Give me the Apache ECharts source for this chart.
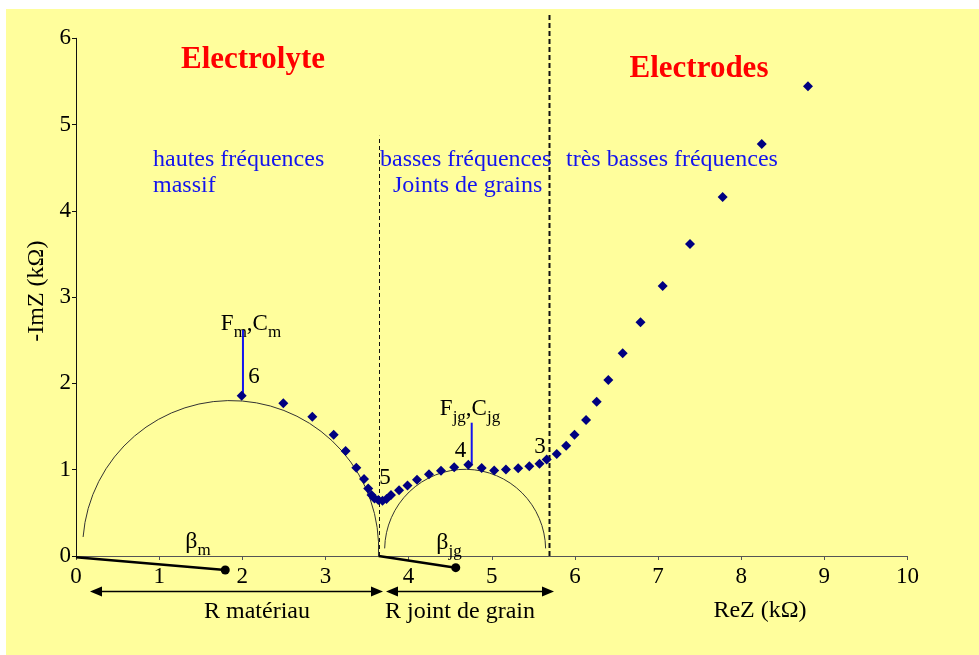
<!DOCTYPE html>
<html>
<head>
<meta charset="utf-8">
<script src="https://cdn.jsdelivr.net/npm/echarts@6/dist/echarts.min.js"></script>
<style>
html,body{margin:0;padding:0;background:#fff;}
#c{width:979px;height:655px;}
</style>
</head>
<body>
<div id="c"></div>
<script>
// ---- data ----
const reZ = [1.993,2.493,2.842,3.099,3.243,3.371,3.464,3.514,3.554,3.590,3.636,3.686,3.734,3.788,3.885,3.987,4.101,4.245,4.390,4.548,4.718,4.879,5.029,5.171,5.318,5.452,5.574,5.661,5.782,5.895,5.995,6.134,6.262,6.402,6.575,6.789,7.056,7.384,7.777,8.247,8.803];
const imZ = [1.858,1.770,1.615,1.406,1.217,1.023,0.892,0.782,0.707,0.666,0.649,0.641,0.661,0.707,0.763,0.817,0.884,0.948,0.989,1.028,1.058,1.020,0.991,1.003,1.016,1.041,1.070,1.118,1.182,1.278,1.406,1.576,1.787,2.040,2.349,2.709,3.129,3.616,4.161,4.775,5.444];

// fitted arcs (centre, radius in ReZ units, start/end angle in degrees)
const arcCx = [1.86, 4.68];
const arcCy = [0.086, 0.072];
const arcR = [1.78, 0.968];
const arcStart = [184.5, 181];
const arcEnd = [362.9, 359];

// beta (depression angle) segments
const betaX0 = [0, 3.64];
const betaY0 = [-0.015, 0];
const betaX1 = [1.795, 4.567];
const betaY1 = [-0.162, -0.135];

// domain boundaries
const boundX = [3.64, 5.69];
const boundTop = [4.87, 6.28];

// resistance arrows
const arrowFrom = [0.168, 3.728];
const arrowTo = [3.692, 5.749];
const arrowY = [-0.406, -0.406];

// pointer lines for F,C labels
const ptrX = [2.008, 4.759];
const ptrY0 = [1.88, 1.06];
const ptrY1 = [2.62, 1.545];

const xTicks = [0,1,2,3,4,5,6,7,8,9,10];
const yTicks = [0,1,2,3,4,5,6];

// ---- chart ----
const FONT = 'Liberation Serif';
const BLUE = '#1414ee';
const chart = echarts.init(document.getElementById('c'), null, {renderer:'canvas'});

function txt(text, x, y, opts) {
  return {
    type: 'text', x: x, y: y, z: 50,
    style: Object.assign({text: text, fontFamily: FONT, fontSize: 24, fill: '#000', align: 'left', verticalAlign: 'middle'}, opts || {})
  };
}
const subRich = (color, big, small) => ({
  a: {fontFamily: FONT, fontSize: big, color: color, lineHeight: 34, verticalAlign: 'middle'},
  b: {fontFamily: FONT, fontSize: small, color: color, lineHeight: 34, verticalAlign: 'bottom'}
});

const option = {
  backgroundColor: '#ffffff',
  animation: false,
  grid: {left: 76, right: 71.5, top: 38.3, bottom: 99, containLabel: false},
  xAxis: {
    type: 'value', min: xTicks[0], max: xTicks[xTicks.length-1], interval: 1,
    axisLine: {onZero: false, lineStyle: {color: '#555', width: 1}},
    axisTick: {show: true, length: 4, lineStyle: {color: '#555'}},
    axisLabel: {fontFamily: FONT, fontSize: 23, color: '#000', margin: 9},
    splitLine: {show: false}
  },
  yAxis: {
    type: 'value', min: yTicks[0], max: yTicks[yTicks.length-1], interval: 1,
    name: '-ImZ (kΩ)', nameLocation: 'middle', nameRotate: 90, nameGap: 23,
    nameTextStyle: {fontFamily: FONT, fontSize: 24, color: '#000', padding: [0, 0, 0, 12]},
    axisLine: {show: true, onZero: false, lineStyle: {color: '#111', width: 1}},
    axisTick: {show: true, length: 4, lineStyle: {color: '#111'}},
    axisLabel: {fontFamily: FONT, fontSize: 23, color: '#000', margin: 5},
    splitLine: {show: false}
  },
  graphic: [
    {type: 'rect', z: -100, silent: true, shape: {x: 6, y: 9, width: 973, height: 646}, style: {fill: '#FFFE9C'}},
    txt('Electrolyte', 253, 60, {fontSize: 31, fontWeight: 'bold', fill: '#ff0000', align: 'center'}),
    txt('Electrodes', 699, 69, {fontSize: 31, fontWeight: 'bold', fill: '#ff0000', align: 'center'}),
    txt('hautes fréquences', 153, 160, {fill: BLUE}),
    txt('massif', 153, 186, {fill: BLUE}),
    txt('basses fréquences', 380, 160, {fill: BLUE}),
    txt('Joints de grains', 393, 186, {fill: BLUE}),
    txt('très basses fréquences', 566, 160, {fill: BLUE}),
    txt('6', 254, 377, {align: 'center', fontSize: 23}),
    txt('5', 385, 478, {align: 'center', fontSize: 23}),
    txt('4', 460.5, 451, {align: 'center', fontSize: 23}),
    txt('3', 540, 447, {align: 'center', fontSize: 23}),
    txt('R matériau', 257, 612, {align: 'center'}),
    txt('R joint de grain', 460, 612, {align: 'center'}),
    txt('ReZ (kΩ)', 760, 611, {align: 'center'}),
    {type: 'text', x: 251, y: 324, z: 50, style: {text: '{a|F}{b|m}{a|,C}{b|m}', rich: subRich(BLUE, 23, 17), align: 'center', verticalAlign: 'middle'}},
    {type: 'text', x: 470, y: 409, z: 50, style: {text: '{a|F}{b|jg}{a|,C}{b|jg}', rich: subRich(BLUE, 23, 17), align: 'center', verticalAlign: 'middle'}},
    {type: 'text', x: 198, y: 542, z: 50, style: {text: '{a|β}{b|m}', rich: subRich('#000', 24, 17), align: 'center', verticalAlign: 'middle'}},
    {type: 'text', x: 449, y: 543, z: 50, style: {text: '{a|β}{b|jg}', rich: subRich('#000', 24, 17), align: 'center', verticalAlign: 'middle'}}
  ],
  series: [
    {
      type: 'custom', name: 'arcs', z: 3, silent: true,
      data: arcCx.map((_, i) => [arcCx[i], arcCy[i], arcR[i], arcStart[i], arcEnd[i]]),
      encode: {x: 0, y: 1},
      renderItem: function (params, api) {
        const c = api.coord([api.value(0), api.value(1)]);
        const r = api.size([api.value(2), 0])[0];
        return {
          type: 'arc',
          shape: {cx: c[0], cy: c[1], r: r, startAngle: api.value(3) * Math.PI / 180, endAngle: api.value(4) * Math.PI / 180, clockwise: true},
          style: {stroke: '#333', fill: null, lineWidth: 1}
        };
      }
    },
    {
      type: 'custom', name: 'boundaries', z: 3, silent: true,
      data: boundX.map((_, i) => [boundX[i], boundTop[i], i]),
      encode: {x: 0, y: 1},
      renderItem: function (params, api) {
        const p0 = api.coord([api.value(0), 0]);
        const p1 = api.coord([api.value(0), api.value(1)]);
        const heavy = api.value(2) === 1;
        return {
          type: 'line',
          shape: {x1: Math.round(p0[0]) + 0.5, y1: p0[1], x2: Math.round(p1[0]) + 0.5, y2: p1[1]},
          style: {stroke: '#111', lineWidth: heavy ? 2 : 1, lineDash: heavy ? [5, 3] : [4, 3]}
        };
      }
    },
    {
      type: 'custom', name: 'beta', z: 4, silent: true,
      data: betaX0.map((_, i) => [betaX0[i], betaY0[i], betaX1[i], betaY1[i]]),
      encode: {x: 0, y: 1},
      renderItem: function (params, api) {
        const p0 = api.coord([api.value(0), api.value(1)]);
        const p1 = api.coord([api.value(2), api.value(3)]);
        return {
          type: 'group', children: [
            {type: 'line', shape: {x1: p0[0], y1: p0[1], x2: p1[0], y2: p1[1]}, style: {stroke: '#000', lineWidth: 2.5}},
            {type: 'circle', shape: {cx: p1[0], cy: p1[1], r: 4.5}, style: {fill: '#000'}}
          ]
        };
      }
    },
    {
      type: 'custom', name: 'arrows', z: 4, silent: true,
      data: arrowFrom.map((_, i) => [arrowFrom[i], arrowY[i], arrowTo[i]]),
      encode: {x: 0, y: 1},
      renderItem: function (params, api) {
        const p0 = api.coord([api.value(0), api.value(1)]);
        const p1 = api.coord([api.value(2), api.value(1)]);
        const y = Math.round(p0[1]) + 0.5;
        const L = 12, H = 5;
        return {
          type: 'group', children: [
            {type: 'line', shape: {x1: p0[0] + 4, y1: y, x2: p1[0] - 4, y2: y}, style: {stroke: '#000', lineWidth: 1.3}},
            {type: 'polygon', shape: {points: [[p0[0], y], [p0[0] + L, y - H], [p0[0] + L, y + H]]}, style: {fill: '#000'}},
            {type: 'polygon', shape: {points: [[p1[0], y], [p1[0] - L, y - H], [p1[0] - L, y + H]]}, style: {fill: '#000'}}
          ]
        };
      }
    },
    {
      type: 'custom', name: 'pointers', z: 4, silent: true,
      data: ptrX.map((_, i) => [ptrX[i], ptrY0[i], ptrY1[i]]),
      encode: {x: 0, y: 1},
      renderItem: function (params, api) {
        const p0 = api.coord([api.value(0), api.value(1)]);
        const p1 = api.coord([api.value(0), api.value(2)]);
        return {type: 'line', shape: {x1: p0[0], y1: p0[1], x2: p1[0], y2: p1[1]}, style: {stroke: '#1414ee', lineWidth: 2}};
      }
    },
    {
      type: 'scatter', name: 'Z', z: 10, silent: true,
      symbol: 'diamond', symbolSize: 10,
      itemStyle: {color: '#000080', opacity: 1},
      data: reZ.map((x, i) => [x, imZ[i]])
    }
  ]
};
chart.setOption(option);
</script>
</body>
</html>
